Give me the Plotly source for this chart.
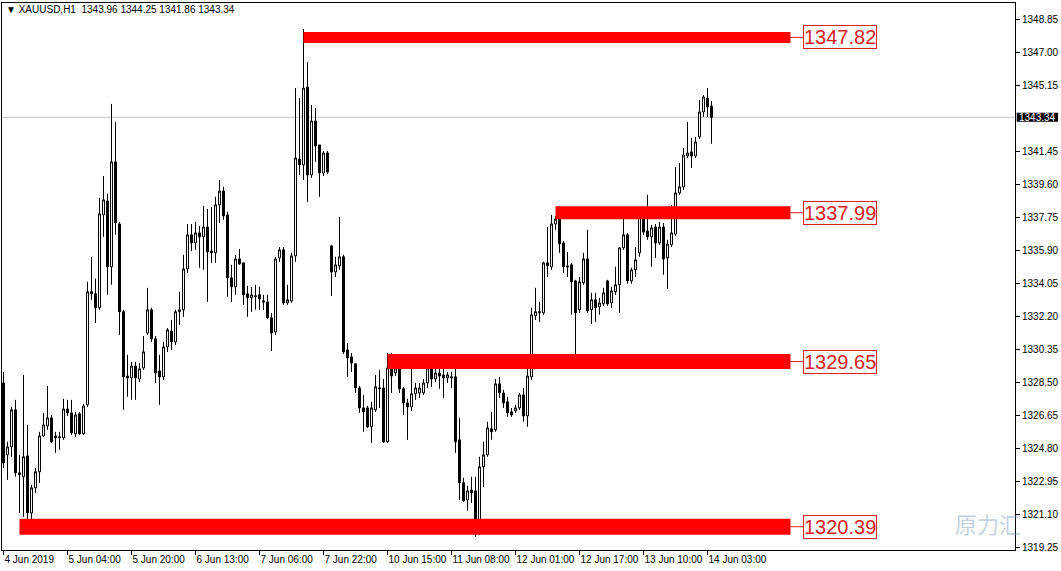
import plotly.graph_objects as go

# ---------------- data ----------------
bars = list(range(178))

open_ = [1328.45,1324.42,1324.87,1326.94,1323.41,1323.19,1324.36,1321.16,1322.57,1323.47,
 1325.48,1326.04,1326.49,1325.48,1325.37,1325.37,1326.99,1326.77,1325.60,1326.72,
 1325.60,1327.22,1333.56,1333.45,1332.66,1337.87,1338.65,1334.96,1340.84,1337.36,
 1332.44,1328.84,1328.73,1329.40,1328.67,1329.29,1331.25,1332.55,1330.92,1329.12,
 1328.79,1330.47,1331.36,1330.75,1332.44,1332.55,1334.84,1336.75,1336.30,1336.86,
 1336.64,1337.19,1335.85,1335.74,1338.43,1339.21,1337.87,1334.34,1333.84,1335.40,
 1335.18,1333.45,1333.22,1333.28,1333.39,1333.05,1332.99,1332.10,1331.31,1335.46,
 1335.91,1332.94,1333.05,1335.57,1341.00,1340.67,1345.04,1340.11,1343.13,1341.79,
 1340.22,1341.34,1336.13,1334.67,1335.01,1335.52,1330.30,1329.91,1329.52,1328.17,
 1327.05,1327.05,1325.99,1326.94,1328.12,1328.17,1325.15,1329.29,1329.01,1329.29,
 1328.12,1327.33,1327.11,1327.84,1327.89,1327.89,1328.45,1329.29,1328.67,1329.01,
 1328.90,1328.73,1328.73,1328.79,1325.26,1322.85,1321.89,1322.45,1322.40,1320.49,
 1323.75,1324.42,1325.88,1325.82,1328.40,1327.89,1327.39,1326.83,1326.88,1327.05,
 1327.78,1326.60,1328.79,1332.21,1332.38,1332.38,1335.18,1334.96,1337.36,1337.64,
 1336.30,1335.01,1335.07,1334.17,1332.55,1334.06,1335.40,1332.55,1333.11,1332.71,
 1332.88,1334.17,1332.94,1333.56,1333.95,1336.02,1336.75,1334.17,1334.79,1335.74,
 1337.87,1336.97,1336.64,1337.19,1336.30,1337.19,1335.46,1336.19,1336.80,1339.10,
 1339.44,1341.17,1341.40,1341.17,1342.24,1343.64,1344.42,1343.96]

high = [1329.07,1325.15,1327.11,1327.50,1324.42,1328.90,1326.10,1322.74,1323.69,1325.71,
 1326.77,1328.28,1326.66,1325.71,1325.71,1327.56,1327.50,1327.50,1326.83,1326.83,
 1327.28,1334.12,1335.52,1334.29,1338.82,1340.05,1339.05,1344.09,1343.08,1337.48,
 1332.55,1330.02,1329.63,1329.63,1329.57,1331.08,1333.78,1332.66,1331.08,1330.02,
 1330.75,1331.53,1331.98,1332.55,1333.56,1335.63,1337.36,1337.36,1337.48,1337.25,
 1338.37,1338.20,1338.31,1338.88,1339.83,1339.44,1338.04,1335.07,1335.63,1335.96,
 1335.18,1333.89,1333.84,1333.95,1333.84,1333.39,1333.39,1332.38,1335.52,1336.07,
 1336.07,1333.95,1335.74,1344.98,1344.42,1348.29,1346.44,1344.03,1343.86,1341.79,
 1341.45,1341.45,1336.19,1335.52,1337.75,1335.63,1330.69,1330.13,1329.52,1328.28,
 1327.78,1327.16,1327.39,1328.90,1329.18,1328.67,1330.13,1330.13,1330.02,1330.02,
 1328.23,1327.56,1329.68,1328.45,1328.45,1328.67,1329.63,1329.46,1329.91,1329.29,
 1329.24,1329.07,1329.07,1329.29,1326.49,1323.13,1322.68,1323.19,1323.19,1324.31,
 1325.15,1326.27,1326.83,1328.67,1328.79,1328.06,1327.67,1327.05,1327.22,1327.89,
 1328.17,1329.29,1332.66,1333.78,1332.99,1335.24,1337.19,1337.87,1337.81,1337.87,
 1336.41,1335.79,1335.18,1334.23,1334.39,1335.74,1337.03,1333.50,1333.50,1333.22,
 1333.78,1334.23,1333.84,1334.96,1336.07,1337.70,1336.86,1334.91,1336.07,1338.04,
 1338.31,1338.99,1337.31,1337.36,1337.48,1337.42,1336.47,1338.43,1340.55,1340.78,
 1341.62,1343.08,1342.18,1342.24,1344.31,1344.59,1344.98,1344.25]

low = [1323.69,1323.02,1324.31,1323.19,1321.16,1320.94,1320.21,1320.32,1322.28,1322.85,
 1325.43,1325.82,1325.09,1324.53,1324.70,1325.26,1326.60,1325.54,1325.43,1325.54,
 1325.54,1327.11,1333.11,1331.81,1332.55,1336.64,1333.39,1333.95,1336.75,1331.14,
 1326.94,1327.67,1327.50,1327.50,1328.51,1329.18,1331.14,1330.75,1328.45,1327.22,
 1328.62,1330.19,1330.30,1330.58,1331.70,1332.15,1334.62,1335.85,1335.91,1334.91,
 1334.79,1332.99,1335.18,1335.18,1337.42,1337.59,1333.28,1332.99,1333.39,1335.07,
 1332.83,1332.15,1332.44,1332.55,1332.55,1332.55,1332.04,1330.24,1331.14,1335.24,
 1332.83,1332.83,1332.94,1335.24,1340.11,1339.83,1338.59,1339.94,1340.84,1338.88,
 1340.05,1340.16,1333.33,1334.39,1334.79,1330.08,1328.79,1329.07,1327.89,1326.77,
 1325.71,1325.93,1325.09,1326.83,1327.05,1325.09,1325.09,1327.89,1328.84,1327.89,
 1326.66,1325.26,1326.88,1327.50,1327.61,1327.78,1328.17,1328.23,1328.51,1328.12,
 1327.61,1328.45,1328.17,1324.53,1321.89,1321.78,1321.28,1321.72,1319.82,1319.93,
 1322.62,1324.31,1325.26,1325.71,1327.61,1327.05,1326.55,1326.55,1326.77,1326.94,
 1326.27,1325.99,1328.62,1331.98,1331.87,1332.27,1334.39,1334.79,1337.03,1335.74,
 1334.62,1334.39,1332.27,1330.02,1332.38,1333.95,1332.38,1331.76,1331.87,1332.27,
 1332.77,1332.77,1332.66,1333.39,1332.38,1335.91,1334.01,1334.01,1334.39,1335.52,
 1336.75,1336.47,1334.96,1335.46,1336.19,1334.51,1333.72,1336.07,1336.69,1338.99,
 1339.27,1341.06,1340.50,1341.06,1342.12,1343.36,1343.36,1341.86]

close = [1323.97,1324.87,1326.94,1323.41,1323.30,1324.31,1321.16,1322.57,1323.47,1325.48,
 1326.10,1326.49,1325.15,1325.37,1325.43,1326.99,1326.77,1325.65,1326.66,1325.60,
 1327.16,1333.56,1333.45,1332.66,1337.93,1338.71,1334.96,1340.84,1337.42,1332.44,
 1328.79,1328.73,1329.40,1328.73,1329.24,1330.19,1332.55,1330.92,1329.01,1328.79,
 1330.47,1331.42,1330.75,1332.44,1332.55,1334.84,1336.75,1336.30,1336.86,1336.64,
 1337.19,1335.79,1335.74,1338.43,1339.21,1337.81,1334.34,1333.84,1335.40,1335.12,
 1333.39,1333.22,1333.39,1333.33,1333.16,1332.99,1332.10,1331.25,1335.40,1335.91,
 1332.94,1333.11,1335.57,1341.06,1340.67,1344.98,1340.11,1343.13,1341.73,1340.22,
 1341.34,1340.27,1334.67,1335.07,1335.52,1330.19,1329.85,1329.57,1328.17,1327.05,
 1326.83,1325.99,1327.05,1328.23,1328.17,1325.15,1329.29,1328.84,1329.29,1328.12,
 1327.33,1327.11,1327.84,1328.17,1328.17,1328.45,1329.29,1328.67,1329.01,1328.84,
 1328.73,1328.90,1328.79,1325.15,1322.85,1321.84,1322.40,1322.28,1320.49,1323.75,
 1324.42,1325.93,1325.71,1328.40,1327.89,1327.33,1326.77,1326.66,1327.05,1327.78,
 1326.60,1328.84,1332.27,1332.44,1332.44,1335.18,1335.01,1337.36,1337.64,1336.24,
 1334.96,1334.96,1334.12,1332.38,1334.12,1335.40,1332.49,1333.11,1332.66,1332.94,
 1333.50,1332.88,1333.61,1333.95,1336.02,1336.75,1334.17,1334.79,1335.35,1337.81,
 1336.91,1336.64,1337.14,1336.30,1337.19,1335.40,1336.24,1336.86,1339.10,1339.44,
 1341.23,1341.34,1341.17,1341.96,1343.64,1344.48,1343.92,1343.34]

x_tick_bars = [0, 16, 32, 48, 64, 80, 96, 112, 128, 144, 160, 176]
x_tick_labels = ["4 Jun 2019", "5 Jun 04:00", "5 Jun 20:00", "6 Jun 13:00", "7 Jun 06:00",
                 "7 Jun 22:00", "10 Jun 15:00", "11 Jun 08:00", "12 Jun 01:00",
                 "12 Jun 17:00", "13 Jun 10:00", "14 Jun 03:00"]

y_tick_vals = [1348.85, 1347.00, 1345.15, 1341.45, 1339.60, 1337.75, 1335.90, 1334.05,
               1332.20, 1330.35, 1328.50, 1326.65, 1324.80, 1322.95, 1321.10, 1319.25]
y_tick_labels = ["1348.85", "1347.00", "1345.15", "1341.45", "1339.60", "1337.75", "1335.90",
                 "1334.05", "1332.20", "1330.35", "1328.50", "1326.65", "1324.80", "1322.95",
                 "1321.10", "1319.25"]

levels = [1347.82, 1337.99, 1329.65, 1320.39]
level_labels = ["1347.82", "1337.99", "1329.65", "1320.39"]
level_start_bar = [75, 138, 96, 4]
level_end_bar = 196.75
label_bar = 199.9
level_thickness = [11, 13, 15, 16]

symbol = "XAUUSD,H1"
last_ohlc = ["1343.96", "1344.25", "1341.86", "1343.34"]
last_price = 1343.34

# ---------------- figure ----------------
fig = go.Figure()

fig.add_trace(go.Candlestick(
    x=bars, open=open_, high=high, low=low, close=close,
    increasing=dict(line=dict(color="black", width=1), fillcolor="white"),
    decreasing=dict(line=dict(color="black", width=1), fillcolor="black"),
    whiskerwidth=0, showlegend=False, hoverinfo="skip"))

shapes = []
annotations = []

# current price line
shapes.append(dict(type="line", xref="paper", x0=0, x1=1, yref="y", y0=last_price, y1=last_price,
                   line=dict(color="#c0c0c0", width=1), layer="below"))

for lv, lab, sb, th in zip(levels, level_labels, level_start_bar, level_thickness):
    shapes.append(dict(type="line", xref="x", yref="y", x0=sb, x1=level_end_bar, y0=lv, y1=lv,
                       line=dict(color="#ff0000", width=th), layer="above"))
    shapes.append(dict(type="line", xref="x", yref="y", x0=level_end_bar, x1=label_bar, y0=lv, y1=lv,
                       line=dict(color="#e02020", width=1)))
    annotations.append(dict(x=label_bar, y=lv, xref="x", yref="y", text=lab, showarrow=False,
                            xanchor="left", yanchor="middle",
                            font=dict(family="Liberation Sans", size=20, color="#d81e1e"),
                            bordercolor="#e02020", borderwidth=1, borderpad=0, bgcolor="white"))

# last-price tag on axis
shapes.append(dict(type="rect", xref="paper", x0=1.0017, x1=1.0425, yref="y", ysizemode="pixel",
                   yanchor=last_price, y0=-4.5, y1=4.5, fillcolor="black", line=dict(width=0)))
annotations.append(dict(xref="paper", x=1.0019, y=last_price, yref="y", text=f"{last_price:.2f}",
                        showarrow=False, xanchor="left", yanchor="middle",
                        font=dict(family="Liberation Sans", size=10, color="white")))

# title
annotations.append(dict(xref="paper", yref="paper", x=0.002, y=1, yshift=1, xanchor="left",
                        yanchor="top", showarrow=False,
                        text="▼ " + symbol + "  " + " ".join(last_ohlc),
                        font=dict(family="Liberation Sans", size=10, color="black")))

# watermark
annotations.append(dict(xref="paper", yref="y", x=1.008, y=1320.6, xanchor="right",
                        yanchor="middle", showarrow=False, text="原力汇",
                        font=dict(family="Noto Sans CJK SC", size=22, color="rgba(120,150,175,0.45)")))

fig.update_layout(
    width=1061, height=571,
    margin=dict(l=2, r=46, t=3, b=21, autoexpand=False),
    paper_bgcolor="white", plot_bgcolor="white",
    showlegend=False,
    boxgap=0.3, boxgroupgap=0.3,
    shapes=shapes, annotations=annotations,
    font=dict(family="Liberation Sans", size=10, color="black"),
    xaxis=dict(range=[-0.375, 252.875], rangeslider=dict(visible=False), automargin=False,
               tickmode="array", tickvals=x_tick_bars, ticktext=x_tick_labels, tickangle=0,
               ticks="outside", ticklen=4, tickcolor="black", ticklabelposition="outside right",
               showgrid=False, zeroline=False, showline=True, linecolor="black", linewidth=1,
               mirror=True, tickfont=dict(size=10, family="Liberation Sans")),
    yaxis=dict(range=[1319.085, 1349.747], side="right", automargin=False,
               tickmode="array", tickvals=y_tick_vals, ticktext=y_tick_labels,
               ticks="outside", ticklen=4, tickcolor="black",
               showgrid=False, zeroline=False, showline=True, linecolor="black", linewidth=1,
               mirror=True, tickfont=dict(size=10, family="Liberation Sans")),
)

fig.write_html("out.html", config={"displayModeBar": False},
               post_script="document.body.style.margin='0';document.body.style.overflow='hidden';")
